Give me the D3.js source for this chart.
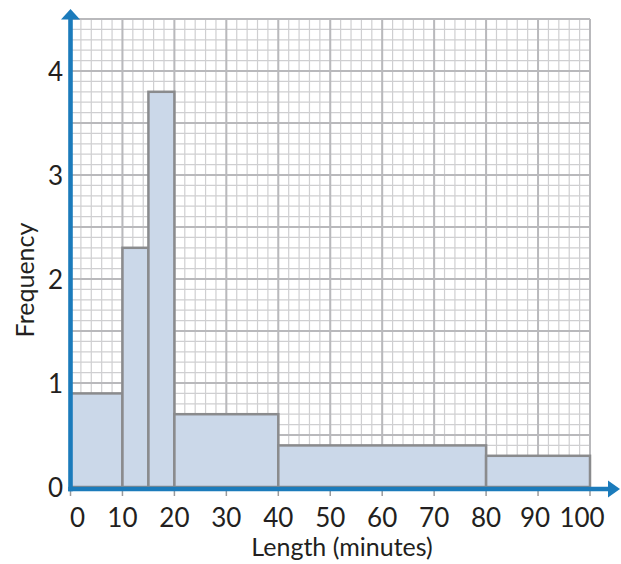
<!DOCTYPE html>
<html>
<head>
<meta charset="utf-8">
<script src="https://cdn.jsdelivr.net/npm/d3@7"></script>
<style>
  html, body { margin: 0; padding: 0; background: #fff; }
  svg { display: block; }
  text { font-family: Lato, "Open Sans", sans-serif; fill: #231f20; }
</style>
</head>
<body>
<svg id="chart" width="621" height="564"></svg>
<script>
// Histogram of lengths (minutes): class boundaries and frequency densities
const binStarts = [0, 10, 15, 20, 40, 80];
const binEnds   = [10, 15, 20, 40, 80, 100];
const frequency = [0.9, 2.3, 3.8, 0.7, 0.4, 0.3];

const xTicks = [0, 10, 20, 30, 40, 50, 60, 70, 80, 90, 100];
const yTicks = [0, 1, 2, 3, 4];

const svg = d3.select("#chart");

const x = d3.scaleLinear().domain([0, 100]).range([70.5, 590]);
const y = d3.scaleLinear().domain([0, 4.5]).range([487, 19]);

const blue = "#1b7bbb";

// Graph-paper grid: minor every 2 min / 0.1, major every 10 min / 0.5
const grid = svg.append("g");
const minorX = d3.range(0, 100.001, 2);
const minorY = d3.range(0, 4.5001, 0.1);
grid.selectAll(".mx").data(minorX).join("line")
  .attr("x1", d => x(d)).attr("x2", d => x(d))
  .attr("y1", y(0)).attr("y2", y(4.5))
  .attr("stroke", "#cfcfd1").attr("stroke-width", 1.2);
grid.selectAll(".my").data(minorY).join("line")
  .attr("x1", x(0)).attr("x2", x(100))
  .attr("y1", d => y(d)).attr("y2", d => y(d))
  .attr("stroke", "#cfcfd1").attr("stroke-width", 1.2);
grid.selectAll(".Mx").data(d3.range(0, 100.001, 10)).join("line")
  .attr("x1", d => x(d)).attr("x2", d => x(d))
  .attr("y1", y(0)).attr("y2", y(4.5))
  .attr("stroke", "#b9b9bc").attr("stroke-width", 2);
grid.selectAll(".My").data(d3.range(0, 4.5001, 0.5)).join("line")
  .attr("x1", x(0)).attr("x2", x(100))
  .attr("y1", d => y(d)).attr("y2", d => y(d))
  .attr("stroke", "#b9b9bc").attr("stroke-width", 2);

// Bars
const bins = binStarts.map((s, i) => ({ s, e: binEnds[i], f: frequency[i] }));
svg.append("g").selectAll("rect").data(bins).join("rect")
  .attr("x", d => x(d.s))
  .attr("y", d => y(d.f))
  .attr("width", d => x(d.e) - x(d.s))
  .attr("height", d => y(0) - y(d.f))
  .attr("fill", "#cbd8e9")
  .attr("stroke", "#8a8b8d")
  .attr("stroke-width", 2.5);

// Small ticks below the horizontal axis
svg.append("g").selectAll("line").data(xTicks).join("line")
  .attr("x1", d => x(d)).attr("x2", d => x(d))
  .attr("y1", y(0) + 3).attr("y2", y(0) + 9)
  .attr("stroke", "#9a9a9c").attr("stroke-width", 1.5);

// Axes with arrowheads
const axes = svg.append("g");
axes.append("line")
  .attr("x1", x(0) - 2.3).attr("x2", 608)
  .attr("y1", y(0) + 2).attr("y2", y(0) + 2)
  .attr("stroke", blue).attr("stroke-width", 4.6);
axes.append("path")
  .attr("d", `M608,${y(0) + 2 - 8.5} L620,${y(0) + 2} L608,${y(0) + 2 + 8.5} Z`)
  .attr("fill", blue);
axes.append("line")
  .attr("x1", x(0)).attr("x2", x(0))
  .attr("y1", y(0) + 4.3).attr("y2", 19)
  .attr("stroke", blue).attr("stroke-width", 4.6);
axes.append("path")
  .attr("d", `M${x(0) - 9.5},19.5 L${x(0)},9 L${x(0) + 9.5},19.5 Z`)
  .attr("fill", blue);

// Tick labels
svg.append("g").selectAll("text").data(xTicks).join("text")
  .attr("x", d => x(d) + (d === 0 ? 7 : d === 100 ? -8 : d === 90 ? -3 : 0))
  .attr("y", 527)
  .attr("text-anchor", "middle")
  .attr("font-size", 26)
  .text(d => d);

svg.append("g").selectAll("text").data(yTicks).join("text")
  .attr("x", 63)
  .attr("y", d => y(d) + 10)
  .attr("text-anchor", "end")
  .attr("font-size", 26)
  .text(d => d);

// Axis titles
svg.append("text")
  .attr("x", 342).attr("y", 556)
  .attr("text-anchor", "middle")
  .attr("font-size", 25)
  .text("Length (minutes)");

svg.append("text")
  .attr("transform", "translate(34,280) rotate(-90)")
  .attr("text-anchor", "middle")
  .attr("font-size", 25)
  .text("Frequency");
</script>
</body>
</html>
